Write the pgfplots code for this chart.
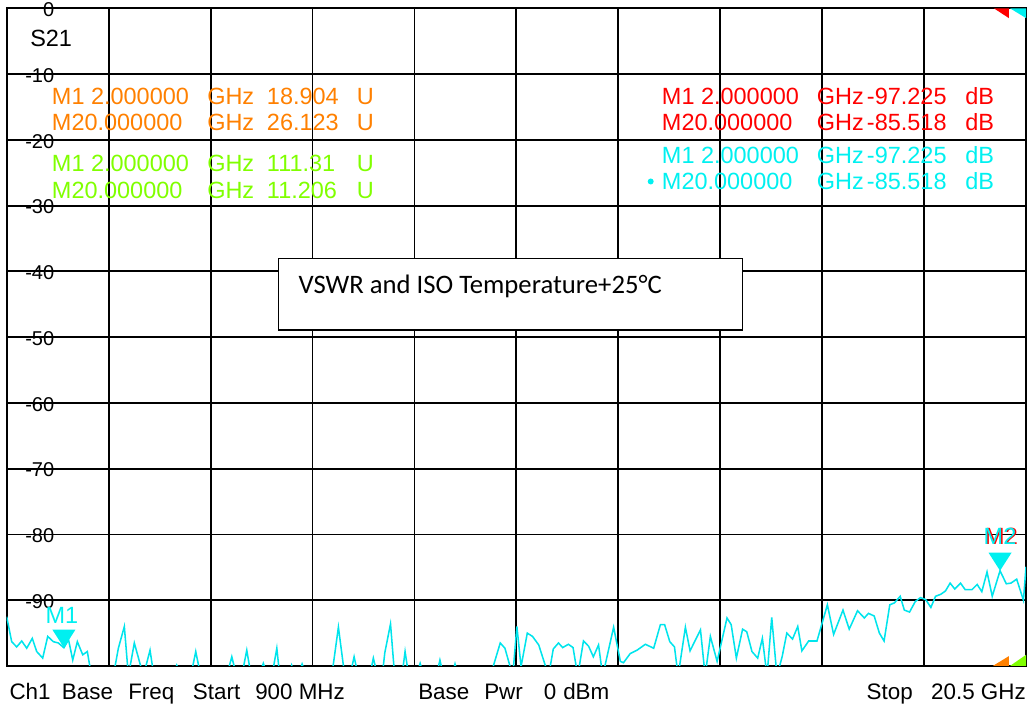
\documentclass[border=0pt]{standalone}
\usepackage{fontspec}
\setmainfont{Liberation Sans}
\newfontfamily\calibri{Carlito}
\usepackage{pgfplots}
\pgfplotsset{compat=1.18}
\definecolor{trc}{RGB}{0,228,236}
\definecolor{mkcyan}{RGB}{0,240,240}
\definecolor{mkorange}{RGB}{255,128,0}
\definecolor{mkgreen}{RGB}{128,255,0}
\definecolor{mkred}{RGB}{255,0,0}
\pgfdeclareplotmark{vtri}{%
  \pgfpathmoveto{\pgfpoint{0pt}{0pt}}%
  \pgfpathlineto{\pgfpoint{-8.6pt}{13.5pt}}%
  \pgfpathlineto{\pgfpoint{8.6pt}{13.5pt}}%
  \pgfpathclose\pgfusepathqfill}
\newcommand\mk{\fontsize{17.6}{20}\selectfont}
\newcommand\bt{\fontsize{16.8}{19}\selectfont}
\begin{document}
\begin{tikzpicture}
\begin{axis}[at={(0,0)}, anchor=south west, scale only axis,
  width=764.5pt, height=493.3pt,
  xmin=0.9, xmax=20.5, ymin=-100, ymax=0,
  xtick={2.86,4.82,6.78,8.74,10.70,12.66,14.62,16.58,18.54},
  xticklabels={},
  ytick={-90,-80,-70,-60,-50,-40,-30,-20,-10,0},
  grid=major,
  major grid style={black, line width=1.4pt},
  axis line style={black, line width=1.4pt},
  major tick length=0pt,
  /pgf/number format/assume math mode=true,
  yticklabel style={anchor=base east, inner sep=0pt, xshift=35.85pt, yshift=-6.2pt,
    font=\fontsize{15}{15}\selectfont},
  clip=true]
\addplot[trc, line width=1.15pt, mark=none] coordinates {
(0.900,-92.5) (0.996,-96.3) (1.092,-97.1) (1.189,-96.2) (1.285,-97.3) (1.392,-95.8)
(1.477,-97.8) (1.592,-98.8) (1.689,-95.5) (1.796,-96.3) (1.893,-96.5) (2.000,-97.225)
(2.089,-96.0) (2.170,-99.1) (2.258,-96.3) (2.362,-98.3) (2.450,-97.8) (2.530,-101.5)
(2.950,-101.5) (3.047,-97.3) (3.162,-94.0) (3.240,-101.5) (3.354,-96.5) (3.528,-101.5)
(3.656,-97.6) (3.730,-101.5) (4.100,-101.5) (4.170,-99.9) (4.250,-101.5) (4.440,-101.5)
(4.535,-97.8) (4.630,-101.5) (5.130,-101.5) (5.228,-98.6) (5.320,-101.5) (5.420,-101.5)
(5.516,-97.6) (5.600,-101.5) (5.750,-101.5) (5.834,-99.6) (5.920,-101.5) (6.000,-101.5)
(6.094,-97.3) (6.150,-101.5) (6.330,-101.5) (6.380,-99.9) (6.450,-101.5) (6.500,-101.5)
(6.580,-99.7) (6.660,-101.5) (7.150,-101.5) (7.278,-94.1) (7.400,-101.5) (7.500,-101.5)
(7.580,-98.6) (7.660,-101.5) (7.880,-101.5) (7.950,-98.8) (8.030,-101.5) (8.120,-101.5)
(8.170,-98.0) (8.280,-93.6) (8.360,-101.5) (8.500,-101.5) (8.560,-97.8) (8.630,-101.5)
(8.780,-101.5) (8.850,-99.6) (8.920,-101.5) (9.160,-101.5) (9.230,-99.1) (9.300,-101.5)
(9.460,-101.5) (9.520,-99.7) (9.580,-101.5) (10.200,-101.5) (10.390,-96.5) (10.480,-97.3)
(10.630,-101.5) (10.710,-94.0) (10.790,-100.1) (10.910,-95.0) (11.010,-95.5) (11.130,-96.8)
(11.320,-101.5) (11.410,-97.4) (11.510,-96.5) (11.590,-97.2) (11.700,-96.7) (11.790,-97.2)
(11.880,-101.5) (11.990,-96.2) (12.090,-97.0) (12.180,-98.6) (12.280,-96.8) (12.360,-101.5)
(12.570,-94.1) (12.700,-99.3) (12.760,-99.5) (12.890,-98.1) (13.020,-97.6) (13.180,-96.7)
(13.340,-97.3) (13.470,-93.7) (13.550,-93.7) (13.650,-96.3) (13.740,-97.1) (13.810,-101.5)
(13.950,-94.1) (14.040,-97.7) (14.240,-94.5) (14.330,-101.5) (14.430,-95.5) (14.560,-99.3)
(14.750,-92.7) (14.830,-93.7) (14.930,-98.8) (15.050,-94.4) (15.130,-94.8) (15.230,-97.8)
(15.340,-98.8) (15.430,-95.8) (15.520,-101.5) (15.610,-92.6) (15.710,-101.5) (15.810,-98.6)
(15.900,-95.0) (16.010,-95.9) (16.110,-94.0) (16.190,-97.7) (16.320,-96.2) (16.480,-96.2)
(16.680,-90.7) (16.800,-95.2) (16.980,-91.5) (17.100,-94.4) (17.260,-91.6) (17.390,-92.7)
(17.470,-92.0) (17.580,-92.4) (17.680,-95.0) (17.770,-96.2) (17.880,-90.7) (17.970,-90.4)
(18.080,-89.4) (18.160,-91.5) (18.260,-91.8) (18.370,-90.2) (18.470,-89.6) (18.570,-89.9)
(18.670,-91.1) (18.760,-89.4) (18.860,-89.1) (18.950,-88.6) (19.040,-87.4) (19.130,-88.3)
(19.240,-87.4) (19.330,-88.4) (19.460,-88.4) (19.560,-87.6) (19.650,-88.7) (19.750,-85.7)
(19.850,-89.4) (20.000,-85.518) (20.120,-87.5) (20.210,-87.4) (20.320,-86.8) (20.450,-90.0)
(20.500,-84.9)
};
% marker triangles M1, M2
\addplot[only marks, mark=vtri, mkcyan] coordinates {(2.000,-97.225) (20.000,-85.518)};
% corner indicators
\addplot[fill=mkred, draw=none] coordinates {(19.88,0) (20.17,0) (20.17,-1.5)} -- cycle;
\addplot[fill=mkcyan, draw=none] coordinates {(20.19,0) (20.5,0) (20.5,-1.5)} -- cycle;
\addplot[fill=mkorange, draw=none] coordinates {(19.86,-100) (20.17,-100) (20.17,-98.5)} -- cycle;
\addplot[fill=mkgreen, draw=none] coordinates {(20.19,-100) (20.5,-100) (20.5,-98.3)} -- cycle;
\end{axis}
\begin{scope}[x=0.75pt, y=-0.75pt, xshift=-5.025pt, yshift=499.5pt]
% S21
\node[anchor=base west, inner sep=0pt, font=\mk] at (30,46.5) {S21};
% orange markers
\begin{scope}[mkorange]
\node[anchor=base west, inner sep=0pt, font=\mk] at (51.7,105) {M1 2.000000};
\node[anchor=base west, inner sep=0pt, font=\mk] at (207,105) {GHz};
\node[anchor=base west, inner sep=0pt, font=\mk] at (266.7,105) {18.904};
\node[anchor=base west, inner sep=0pt, font=\mk] at (356.7,105) {U};
\node[anchor=base west, inner sep=0pt, font=\mk] at (51.7,130.5) {M20.000000};
\node[anchor=base west, inner sep=0pt, font=\mk] at (207,130.5) {GHz};
\node[anchor=base west, inner sep=0pt, font=\mk] at (266.7,130.5) {26.123};
\node[anchor=base west, inner sep=0pt, font=\mk] at (356.7,130.5) {U};
\end{scope}
\begin{scope}[mkgreen]
\node[anchor=base west, inner sep=0pt, font=\mk] at (51.7,171.5) {M1 2.000000};
\node[anchor=base west, inner sep=0pt, font=\mk] at (207,171.5) {GHz};
\node[anchor=base west, inner sep=0pt, font=\mk] at (266.7,171.5) {111.31};
\node[anchor=base west, inner sep=0pt, font=\mk] at (356.7,171.5) {U};
\node[anchor=base west, inner sep=0pt, font=\mk] at (51.7,198.3) {M20.000000};
\node[anchor=base west, inner sep=0pt, font=\mk] at (207,198.3) {GHz};
\node[anchor=base west, inner sep=0pt, font=\mk] at (266.7,198.3) {11.206};
\node[anchor=base west, inner sep=0pt, font=\mk] at (356.7,198.3) {U};
\end{scope}
\begin{scope}[mkred]
\node[anchor=base west, inner sep=0pt, font=\mk] at (661.7,105) {M1 2.000000};
\node[anchor=base west, inner sep=0pt, font=\mk] at (816.7,105) {GHz};
\node[anchor=base west, inner sep=0pt, font=\mk] at (866.7,105) {-97.225};
\node[anchor=base west, inner sep=0pt, font=\mk] at (965,105) {dB};
\node[anchor=base west, inner sep=0pt, font=\mk] at (661.7,131) {M20.000000};
\node[anchor=base west, inner sep=0pt, font=\mk] at (816.7,131) {GHz};
\node[anchor=base west, inner sep=0pt, font=\mk] at (866.7,131) {-85.518};
\node[anchor=base west, inner sep=0pt, font=\mk] at (965,131) {dB};
\end{scope}
\begin{scope}[mkcyan]
\node[anchor=base west, inner sep=0pt, font=\mk] at (661.7,163.3) {M1 2.000000};
\node[anchor=base west, inner sep=0pt, font=\mk] at (816.7,163.3) {GHz};
\node[anchor=base west, inner sep=0pt, font=\mk] at (866.7,163.3) {-97.225};
\node[anchor=base west, inner sep=0pt, font=\mk] at (965,163.3) {dB};
\node[anchor=base west, inner sep=0pt, font=\mk] at (661.7,190) {M20.000000};
\node[anchor=base west, inner sep=0pt, font=\mk] at (816.7,190) {GHz};
\node[anchor=base west, inner sep=0pt, font=\mk] at (866.7,190) {-85.518};
\node[anchor=base west, inner sep=0pt, font=\mk] at (965,190) {dB};
\node[circle, fill=mkcyan, inner sep=0pt, minimum size=4.5pt] at (650.7,181.5) {};
\end{scope}
% marker labels on trace
\node[anchor=base, inner sep=0pt, font=\mk, mkcyan] at (62,623.3) {M1};
\node[anchor=base, inner sep=0pt, font=\mk, mkred] at (1001.5,545) {M2};
\node[anchor=base, inner sep=0pt, font=\mk, mkcyan] at (1000,545) {M2};
% title box
\draw[black, line width=0.9pt, fill=white] (278.3,258.3) rectangle (742.3,330);
\node[anchor=base west, inner sep=0pt, font={\calibri\fontsize{20}{22}\selectfont}] at (298.3,293.3) {VSWR and ISO Temperature+25°C};
% bottom status line
\node[anchor=base west, inner sep=0pt, font=\bt] at (9.3,700) {Ch1};
\node[anchor=base west, inner sep=0pt, font=\bt] at (61.7,700) {Base};
\node[anchor=base west, inner sep=0pt, font=\bt] at (128,700) {Freq};
\node[anchor=base west, inner sep=0pt, font=\bt] at (192.7,700) {Start};
\node[anchor=base west, inner sep=0pt, font=\bt] at (255,700) {900 MHz};
\node[anchor=base west, inner sep=0pt, font=\bt] at (418,700) {Base};
\node[anchor=base west, inner sep=0pt, font=\bt] at (484,700) {Pwr};
\node[anchor=base west, inner sep=0pt, font=\bt] at (543.7,700) {0};
\node[anchor=base west, inner sep=0pt, font=\bt] at (563,700) {dBm};
\node[anchor=base west, inner sep=0pt, font=\bt] at (866.4,700) {Stop};
\node[anchor=base east, inner sep=0pt, font=\bt] at (1026,700) {20.5 GHz};
\pgfresetboundingbox
\path[use as bounding box] (0,0) rectangle (1027,705);
\end{scope}
\end{tikzpicture}
\end{document}
